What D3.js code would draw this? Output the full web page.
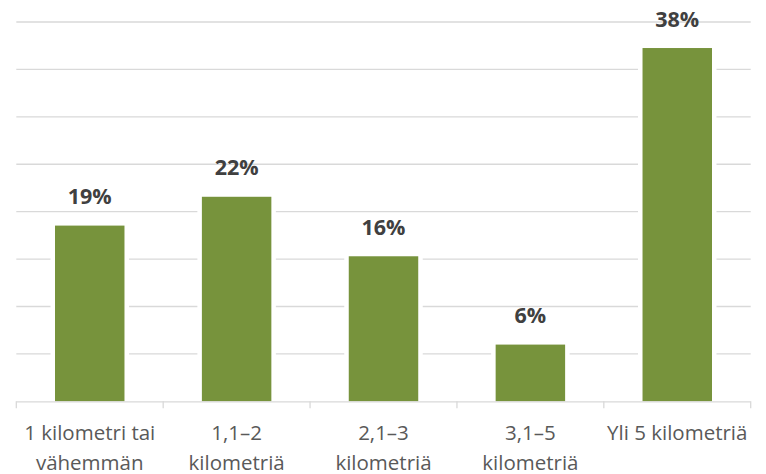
<!DOCTYPE html>
<html><head><meta charset="utf-8">
<script src="https://cdn.jsdelivr.net/npm/d3@7"></script>
<style>body{margin:0;background:#fff}svg{display:block}</style>
</head><body>
<svg id="c" width="766" height="474"></svg>
<script>
const categories = ["1 kilometri tai\nvähemmän", "1,1–2\nkilometriä", "2,1–3\nkilometriä", "3,1–5\nkilometriä", "Yli 5 kilometriä"];
const values = [18.9, 22.0, 15.6, 6.1, 38.0];
const yMax = 40.8;
const gridCount = 8;

(function() {
const svg = d3.select("#c");
const mLeft = 16.3, mRight = 750.7, mTop = 22, mBottom = 401.3;
const x = d3.scaleBand().domain(categories).range([mLeft, mRight]).paddingInner(0.527).paddingOuter(0.2635);
const y = d3.scaleLinear().domain([0, yMax]).range([mBottom, mTop]);
const gridTicks = d3.range(1, gridCount + 1).map(i => i * yMax / gridCount);
const fmt = v => Math.round(v) + "%";

svg.append("g").selectAll("line").data(gridTicks).join("line")
  .attr("x1", mLeft).attr("x2", mRight)
  .attr("y1", d => y(d)).attr("y2", d => y(d))
  .attr("stroke", "#d9d9d9").attr("stroke-width", 1.3);

svg.append("g").selectAll("rect").data(values).join("rect")
  .attr("x", (d, i) => x(categories[i]) - 4.5)
  .attr("width", x.bandwidth() + 9)
  .attr("y", d => y(d) - 4.5)
  .attr("height", d => mBottom - y(d) + 4.5)
  .attr("fill", "#fff");

svg.append("g").selectAll("rect").data(values).join("rect")
  .attr("x", (d, i) => x(categories[i]))
  .attr("width", x.bandwidth())
  .attr("y", d => y(d))
  .attr("height", d => mBottom - y(d))
  .attr("fill", "#77933c");

const axis = svg.append("g");
axis.append("line").attr("x1", mLeft).attr("x2", mRight).attr("y1", mBottom + 0.5).attr("y2", mBottom + 0.5)
  .attr("stroke", "#d9d9d9").attr("stroke-width", 1.3);
const bounds = categories.map(c => x(c) - x.step() * x.paddingInner() / 2).concat([mRight]);
axis.selectAll("line.t").data(bounds).join("line").attr("class", "t")
  .attr("x1", d => d).attr("x2", d => d).attr("y1", mBottom).attr("y2", mBottom + 7)
  .attr("stroke", "#d9d9d9").attr("stroke-width", 1.3);

svg.append("g").selectAll("text").data(values).join("text")
  .attr("x", (d, i) => x(categories[i]) + x.bandwidth() / 2)
  .attr("y", d => y(d) - 21.5)
  .attr("text-anchor", "middle")
  .attr("font-family", "Open Sans").attr("font-weight", "bold").attr("font-size", 21.5)
  .attr("fill", "#404040")
  .text(d => fmt(d));

const cl = svg.append("g").selectAll("text").data(categories).join("text")
  .attr("x", d => x(d) + x.bandwidth() / 2)
  .attr("y", 440)
  .attr("text-anchor", "middle")
  .attr("font-family", "Open Sans").attr("font-size", 20.5)
  .attr("fill", "#595959");
cl.each(function(d) {
  const t = d3.select(this);
  d.split("\n").forEach((line, k) => {
    t.append("tspan").attr("x", t.attr("x")).attr("dy", k === 0 ? 0 : 30).text(line);
  });
});
})();
</script>
</body></html>
